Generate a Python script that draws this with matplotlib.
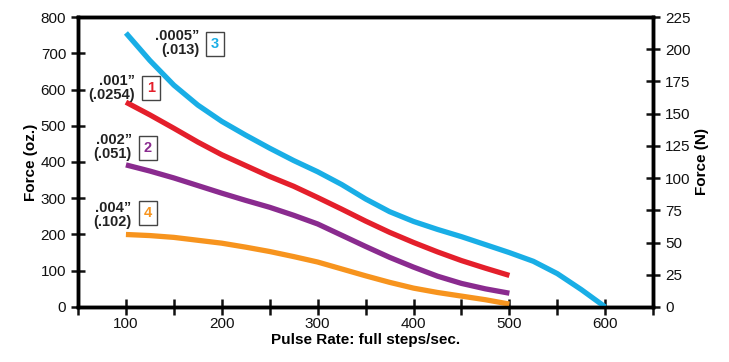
import matplotlib.pyplot as plt

plt.rcParams['font.family'] = ['Liberation Sans', 'DejaVu Sans']

# pulse rate (full steps/sec) vs force (oz.), every 25 steps
RATE_3 = [100, 125, 150, 175, 200, 225, 250, 275, 300, 325, 350, 375, 400,
          425, 450, 475, 500, 525, 550, 575, 600]
FORCE_3 = [756, 680, 612, 557, 512, 474, 438, 404, 373, 338, 298, 263, 236,
           214, 194, 172, 150, 126, 92, 48, 0]

RATE = [100, 125, 150, 175, 200, 225, 250, 275, 300, 325, 350, 375, 400,
        425, 450, 475, 500]
FORCE_1 = [565, 530, 493, 455, 420, 390, 360, 333, 302, 270, 237, 206, 178,
           152, 128, 107, 87]
FORCE_2 = [392, 375, 356, 335, 314, 294, 275, 253, 229, 198, 167, 137, 110,
           85, 65, 50, 38]
FORCE_4 = [200, 197, 192, 184, 176, 165, 153, 139, 124, 105, 86, 68, 52,
           40, 30, 20, 8]

SERIES = [
    ("3", RATE_3, FORCE_3, "#19aee6", ".0005\u201d\n(.013)"),
    ("1", RATE, FORCE_1, "#e41f2b", ".001\u201d\n(.0254)"),
    ("2", RATE, FORCE_2, "#8a2b8f", ".002\u201d\n(.051)"),
    ("4", RATE, FORCE_4, "#f7941e", ".004\u201d\n(.102)"),
]

# (text right edge x, text y, box centre x, box y) in data units
LABEL_POS = {
    "3": (177, 728, 193, 726),
    "1": (109, 604, 126, 604),
    "2": (106, 441, 123, 439),
    "4": (106, 254, 123, 259),
}

fig = plt.figure(figsize=(7.29, 3.62), dpi=100)
ax = fig.add_axes([0.107, 0.152, 0.789, 0.801])

for num, xs, ys, color, label in SERIES:
    ax.plot(xs, ys, color=color, linewidth=3.8, solid_capstyle="butt",
            solid_joinstyle="round", zorder=3)
    tx, ty, bx, by = LABEL_POS[num]
    ax.text(tx, ty, label, ha="right", va="center", fontsize=10.5,
            fontweight="bold", linespacing=0.95, color="#222222")
    ax.text(bx, by, num, ha="center", va="center", fontsize=10.5,
            fontweight="bold", color=color,
            bbox=dict(boxstyle="square,pad=0.32", fc="white", ec="#444444", lw=1))

ax.set_xlim(50, 650)
ax.set_ylim(0, 800)
ax.set_xticks(range(100, 601, 100))
ax.set_xticks(range(50, 651, 50), minor=True)
ax.set_yticks(range(0, 801, 100))

for sp in ax.spines.values():
    sp.set_linewidth(2.5)
ax.tick_params(axis="both", which="both", direction="inout", width=1.8,
               labelsize=11, colors="#111111")
ax.tick_params(axis="x", which="major", length=11, pad=2)
ax.tick_params(axis="x", which="minor", length=11)
ax.tick_params(axis="y", length=10)

ax.set_xlabel("Pulse Rate: full steps/sec.", fontsize=11, fontweight="bold",
              labelpad=1)
ax.set_ylabel("Force (oz.)", fontsize=11, fontweight="bold", labelpad=2)

ax2 = ax.twinx()
ax2.set_ylim(0, 225)
ax2.set_yticks(range(0, 226, 25))
ax2.tick_params(axis="y", direction="inout", length=10, width=1.8,
                labelsize=11, colors="#111111")
for sp in ax2.spines.values():
    sp.set_linewidth(2.5)
ax2.set_ylabel("Force (N)", fontsize=11, fontweight="bold", labelpad=3)

fig.savefig("out.png", dpi=100)
